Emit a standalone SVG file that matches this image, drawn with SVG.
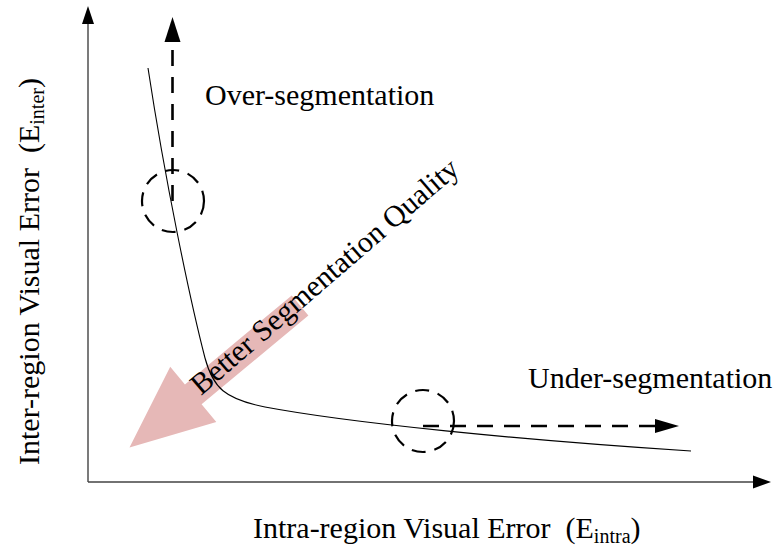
<svg xmlns="http://www.w3.org/2000/svg" width="774" height="552" viewBox="0 0 774 552">
  <style>
    .lbl { font-family: "Liberation Serif", "Times New Roman", serif; font-size: 30px; fill: #000; }
    .sub { font-size: 20px; }
    .axis { stroke: #444; stroke-width: 1.4; fill: none; }
    .dash { stroke: #000; stroke-width: 2.6; fill: none; stroke-dasharray: 16 11; }
    .ring { stroke: #000; stroke-width: 2.2; fill: none; stroke-dasharray: 14 9; }
    .curve { stroke: #000; stroke-width: 1.1; fill: none; }
  </style>
  <rect width="774" height="552" fill="#fff"/>

  <!-- axes -->
  <g id="axes">
    <path class="axis" d="M88,482 V22 M88,482 H755"/>
    <polygon points="88,6 82,24 94,24" fill="#000"/>
    <polygon points="771,482 753,475.5 753,488.5" fill="#000"/>
  </g>

  <!-- axis labels -->
  <g id="x-label">
    <text class="lbl" x="253" y="538" xml:space="preserve">Intra-region Visual Error  (E<tspan class="sub" dy="5">intra</tspan><tspan dy="-5">)</tspan></text>
  </g>
  <g id="y-label">
    <text class="lbl" transform="translate(39,465) rotate(-90)" xml:space="preserve">Inter-region Visual Error  (E<tspan class="sub" dy="5">inter</tspan><tspan dy="-5">)</tspan></text>
  </g>

  <!-- quality direction arrow -->
  <g id="quality-arrow">
    <polygon transform="translate(129.5,447.5) rotate(-39.8)" points="0,0 83,-36 83,-13 222,-13 222,13 83,13 83,36" fill="#E6B8B7"/>
    <text class="lbl" transform="translate(201,396) rotate(-40.8)">Better Segmentation Quality</text>
  </g>

  <!-- trade-off curve -->
  <g id="curve">
    <path class="curve" d="M148,68 C165,180 190,300 205,358 C213,388 225,399 265,407 C350,423 520,440 691,451"/>
  </g>

  <!-- over-segmentation marker -->
  <g id="over-seg">
    <circle class="ring" cx="173" cy="201" r="31"/>
    <text class="lbl" x="205" y="105">Over-segmentation</text>
  </g>

  <!-- under-segmentation marker -->
  <g id="under-seg">
    <circle class="ring" cx="423" cy="421" r="31"/>
    <text class="lbl" x="528" y="388">Under-segmentation</text>
  </g>

  <!-- dashed direction connectors -->
  <g id="connectors">
    <path class="dash" d="M172.5,201 V42"/>
    <polygon points="172.5,17 164.5,42 180.5,42" fill="#000"/>
    <path class="dash" d="M423,426 H656"/>
    <polygon points="679,426 655,419 655,433" fill="#000"/>
  </g>
</svg>
